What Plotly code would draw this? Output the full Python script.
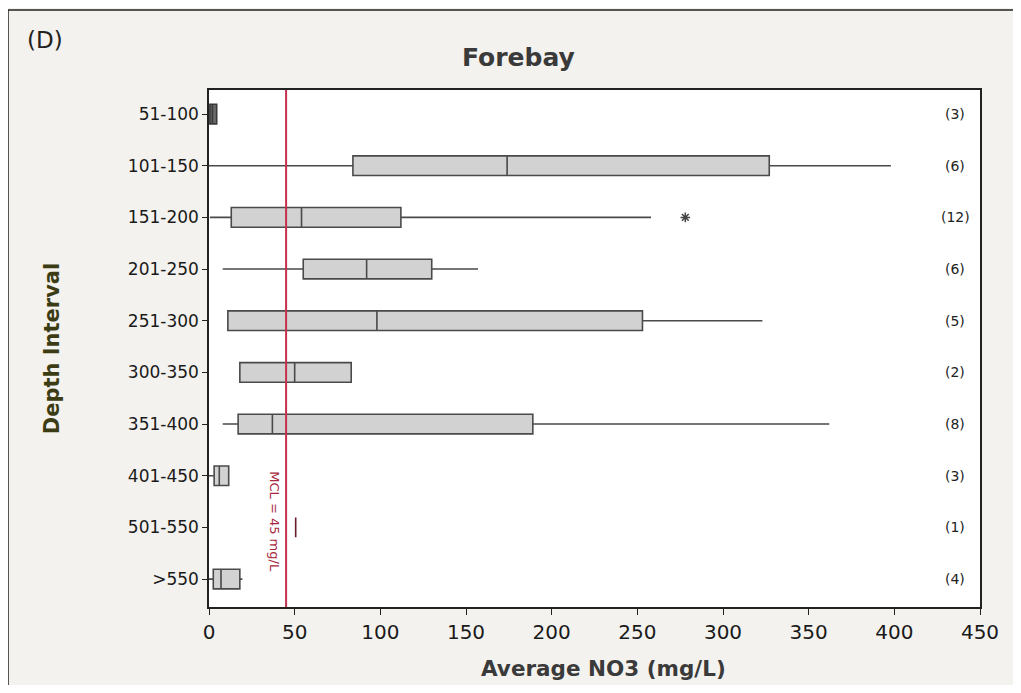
import plotly.graph_objects as go

categories = ["51-100", "101-150", "151-200", "201-250", "251-300",
              "300-350", "351-400", "401-450", "501-550", ">550"]
counts = [3, 6, 12, 6, 5, 2, 8, 3, 1, 4]
lower = [0.5, 0, 0.5, 8, 11, 18, 8, 0, 50.6, 0]
q1 = [0.5, 84, 13, 55, 11, 18, 17, 3, 50.6, 2.5]
median = [2, 174, 54, 92, 98, 50, 37, 6, 50.6, 7]
q3 = [4.5, 327, 112, 130, 253, 83, 189, 11.5, 50.6, 18]
upper = [4.5, 398, 258, 157, 323, 83, 362, 11.5, 50.6, 19.5]
outlier_cat = ["151-200"]
outlier_val = [278]
mcl = 45

fig = go.Figure()
for i, c in enumerate(categories):
    fill = "#d2d2d2"
    line = "#4a4a4a"
    if c == "51-100":
        fill = "#6a6a6a"
        line = "#3a3a3a"
    if c == "501-550":
        line = "#6b1a2a"
    fig.add_trace(go.Box(
        y=[c], q1=[q1[i]], median=[median[i]], q3=[q3[i]],
        lowerfence=[lower[i]], upperfence=[upper[i]],
        orientation="h", width=0.38, fillcolor=fill,
        line=dict(color=line, width=1.6), whiskerwidth=0,
        boxpoints=False, showlegend=False, hoverinfo="skip"))

fig.add_trace(go.Scatter(x=outlier_val, y=outlier_cat, mode="markers",
                         marker=dict(symbol="asterisk", size=8, color="#444",
                                     line=dict(color="#444", width=1.5)),
                         showlegend=False, hoverinfo="skip"))

# MCL line
fig.add_shape(type="line", x0=mcl, x1=mcl, y0=0, y1=1, xref="x", yref="paper",
              line=dict(color="#c4304e", width=2))
fig.add_annotation(x=38.5, xref="x", y=0.164, yref="paper", text="MCL = 45 mg/L",
                   textangle=90, showarrow=False, xanchor="center", yanchor="middle",
                   font=dict(size=13, color="#a8283e", family="DejaVu Sans"))

# outer frame
fig.add_shape(type="rect", xref="paper", yref="paper", x0=-0.2607, x1=1.0454,
              y0=-0.1605, y1=1.1547, line=dict(color="#222", width=1.5), layer="below")

for i, c in enumerate(categories):
    fig.add_annotation(x=0.9676, xref="paper", y=c, yref="y", text=f"({counts[i]})",
                       showarrow=False, xanchor="center", yanchor="middle",
                       font=dict(size=14, color="#222", family="DejaVu Sans"))

fig.add_annotation(x=0.4008, xref="paper", y=1.0638, yref="paper", text="<b>Forebay</b>",
                   showarrow=False, xanchor="center", yanchor="middle",
                   font=dict(size=25, color="#3a3a3a", family="DejaVu Sans"))
fig.add_annotation(x=-0.2127, xref="paper", y=1.0967, yref="paper", text="(D)",
                   showarrow=False, xanchor="center", yanchor="middle",
                   font=dict(size=23, color="#222", family="DejaVu Sans"))
fig.add_annotation(x=0.512, xref="paper", y=-0.118, yref="paper",
                   text="<b>Average NO3 (mg/L)</b>",
                   showarrow=False, xanchor="center", yanchor="middle",
                   font=dict(size=21.5, color="#3a3a3a", family="DejaVu Sans"))

fig.update_layout(
    width=1005, height=677,
    margin=dict(l=201, r=33, t=82, b=78),
    paper_bgcolor="#f3f2ee", plot_bgcolor="white",
    boxmode="overlay",
    font=dict(family="DejaVu Sans", color="#1a1a1a"),
    xaxis=dict(range=[0, 450], tickvals=[0, 50, 100, 150, 200, 250, 300, 350, 400, 450],
               showgrid=False, zeroline=False, ticks="outside", ticklen=6,
               tickcolor="#222", showline=True, linecolor="#222", linewidth=1.5,
               mirror=True, tickfont=dict(size=20)),
    yaxis=dict(categoryorder="array", categoryarray=categories, range=[9.54, -0.465],
               showgrid=False, ticks="outside", ticklen=5, tickcolor="#222",
               showline=True, linecolor="#222", linewidth=1.5, mirror=True,
               tickfont=dict(size=17),
               title=dict(text="<b>Depth Interval</b>", font=dict(size=21, color="#3c3c14"),
                          standoff=62)),
)

fig.write_html("out.html")
